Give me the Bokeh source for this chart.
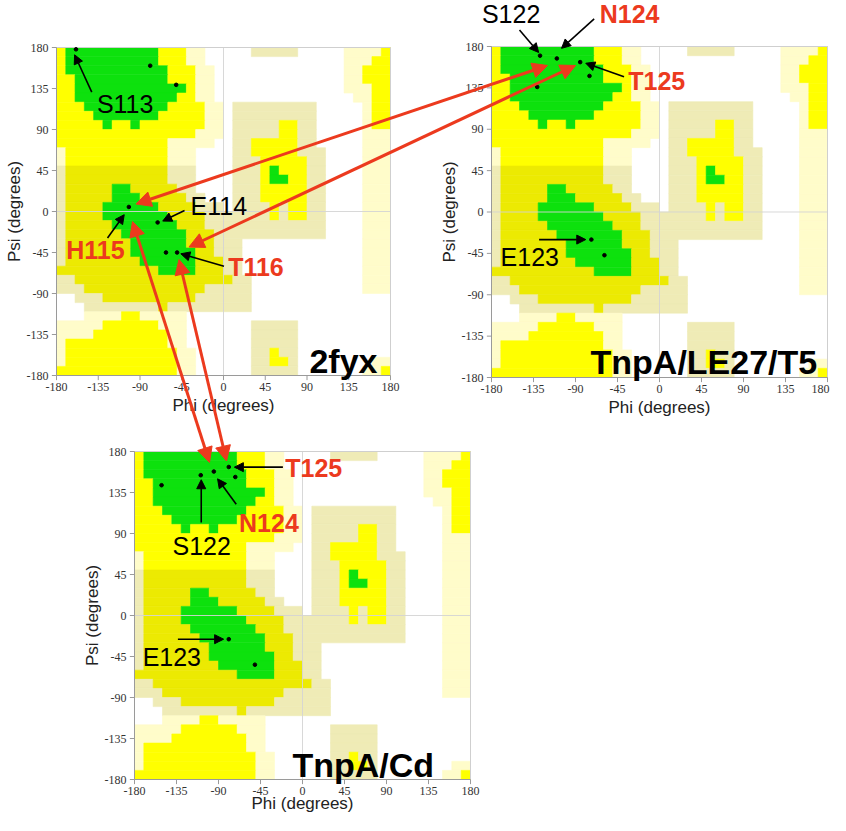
import math
from bokeh.plotting import figure
from bokeh.models import Range1d, Arrow, NormalHead, ColumnDataSource
from bokeh.core.properties import value
from bokeh.embed import file_html
from bokeh.resources import INLINE

# ---------------- data ----------------
TICKS = [-180, -135, -90, -45, 0, 45, 90, 135, 180]
TICK_LABELS = ["-180", "-135", "-90", "-45", "0", "45", "90", "135", "180"]

# Ramachandran background, 10-degree cells, rows psi 180 -> -180, run-length coded
# (y yellow, d tinted yellow, g green core, b beige, c cream, . white)
REGION_ROWS = [
    "y g10 y3 c2 .5 b5 .5 c4 y",
    "y g10 y3 c2 .15 c3 y2",
    "y g11 y3 c2 .14 c2 y3",
    "y2 g10 y3 c2 .14 c2 y3",
    "y2 g12 y c2 .14 c3 y2",
    "y2 g11 y2 c2 .15 c2 y2",
    "y3 g9 y4 c2 . b9 .5 c y2",
    "y4 g7 y5 c2 . b9 .5 c y2",
    "y5 g y2 g y7 c2 . b5 y2 b2 .5 c y2",
    "y15 c3 . b5 y2 b2 .5 c3",
    "y12 c5 .2 b2 y5 b2 .5 c3",
    "c y11 c3 .4 b2 y5 b3 .4 c3",
    "c y11 c3 .4 b3 y5 b2 .4 c3",
    "b d11 b3 .4 b3 y g y3 b2 .4 c3",
    "b d11 b3 .4 b3 y g2 y2 b2 .4 c3",
    "b d5 g2 d5 b2 .4 b3 y5 b2 .4 c3",
    "b d5 g3 d5 b2 .3 b3 y5 b2 .4 c3",
    "b d4 g6 d4 b3 . b4 y b y2 b2 .4 c3",
    "b d4 g7 d4 b7 y b y2 b2 .4 c3",
    "b d5 g7 d3 b13 .4 c3",
    "b d6 g7 d3 b12 .4 c3",
    "b d7 g6 d3 b3 .13 c3",
    "b d7 g7 d2 b3 .13 c3",
    "b d8 g6 d3 b2 .13 c3",
    "d11 g4 d3 b2 .13 c3",
    "b2 d17 b2 .12 c3",
    "b3 d13 b5 .12 c3",
    ".2 b3 d10 b6 .15",
    ".3 b8 d b9 .15",
    ".3 c4 y2 c5 .22",
    "c5 y6 c3 .7 b5 .10",
    "c4 y8 c2 .7 b5 .10",
    "c y11 c2 .7 b5 .10",
    "c y12 c2 .6 b2 y b2 .10",
    "c y12 c2 .6 b2 y2 b .8 c2",
    "y13 c2 .6 b5 .7 c2 y",
]

P1_NAME = "2fyx"
P1_PHI = [-159, -79, -51, -102, -71, -62, -50]
P1_PSI = [178, 160, 139, 5, -12, -45, -45]
P1_LABELS = ["S113", "E114", "H115", "T116"]
P1_LABEL_PHI = [-106, -5, -138, 35]
P1_LABEL_PSI = [118, 6, -42, -61]
P1_LABEL_RED = [False, False, True, True]

P2_NAME = "TnpA/LE27/T5"
P2_PHI = [-128, -110, -85, -75, -131, -73, -59]
P2_PSI = [170, 167, 163, 148, 136, -30, -47]
P2_LABELS = ["S122", "N124", "T125", "E123"]
P2_LABEL_PHI = [-159, -32, -3, -139]
P2_LABEL_PSI = [215.5, 215, 143, -49]
P2_LABEL_RED = [False, True, True, False]

P3_NAME = "TnpA/Cd"
P3_PHI = [-151, -109, -95, -79, -72, -79, -51]
P3_PSI = [143, 154, 158, 163, 152, -26, -54]
P3_LABELS = ["S122", "N124", "T125", "E123"]
P3_LABEL_PHI = [-108, -36, 12, -140]
P3_LABEL_PSI = [76, 102, 162, -46]
P3_LABEL_RED = [False, True, True, False]

# pointer arrows (label -> residue), in each panel's phi/psi
P1_PTR = [(-142, 131, -160.5, 172), (-42, 1, -65.5, -10.5), (-125, -29, -107, -3.5), (0.5, -60, -46, -46.4)]
P2_PTR = [(-150, 198, -129.5, 173.5), (-70, 210, -105, 178), (-38, 147, -79, 161.8), (-129, -30, -79, -30)]
P3_PTR = [(-108.5, 102, -108.5, 149), (-71, 122, -91, 150), (-21, 162.8, -73, 162.8), (-133.5, -26, -84.5, -26)]

# ---------------- styles / layout ----------------
COLORS = {"y": "#FFFF00", "d": "#ECEA02", "g": "#0DE10D", "b": "#EFEBB6", "c": "#FFFCCA"}
RED = "#EC3A1E"
W, H = 830, 815
X0, Y0 = 8, 8

# pixel boxes (left, right, top, bottom) of the three panels on the page
PANELS = [
    dict(key="p1", box=(64, 398, 55, 383), name=P1_NAME, phi=P1_PHI, psi=P1_PSI,
         labels=P1_LABELS, lphi=P1_LABEL_PHI, lpsi=P1_LABEL_PSI, lred=P1_LABEL_RED,
         ptr=P1_PTR, title_pos=(166, -164.5), last_tick_shift=0, title_off=30),
    dict(key="p2", box=(499, 835, 54, 385), name=P2_NAME, phi=P2_PHI, psi=P2_PSI,
         labels=P2_LABELS, lphi=P2_LABEL_PHI, lpsi=P2_LABEL_PSI, lred=P2_LABEL_RED,
         ptr=P2_PTR, title_pos=(169, -163.5), last_tick_shift=-7, title_off=30),
    dict(key="p3", box=(142, 478, 459, 787), name=P3_NAME, phi=P3_PHI, psi=P3_PSI,
         labels=P3_LABELS, lphi=P3_LABEL_PHI, lpsi=P3_LABEL_PSI, lred=P3_LABEL_RED,
         ptr=P3_PTR, title_pos=(141, -164.5), last_tick_shift=0, title_off=24),
]

# cross-panel red arrows (page pixel coordinates)
RED_ARROWS = [
    (143.5, 211.5, 555, 73),
    (196.5, 254.5, 583, 73),
    (140, 229, 217, 470),
    (186.5, 267, 234, 468.5),
]

p = figure(width=W, height=H, x_range=Range1d(X0, X0 + W), y_range=Range1d(Y0 + H, Y0),
           output_backend="svg", toolbar_location=None,
           x_axis_location=None, y_axis_location=None, min_border=0,
           outline_line_color=None, background_fill_color="white", border_fill_color="white")
p.xgrid.grid_line_color = None
p.ygrid.grid_line_color = None

# region cells
cells = dict(left=[], right=[], top=[], bottom=[], color=[])
for r, row in enumerate(REGION_ROWS):
    col = 0
    for tok in row.split():
        ch = tok[0]
        n = int(tok[1:]) if len(tok) > 1 else 1
        if ch != ".":
            cells["left"].append(-180 + 10 * col)
            cells["right"].append(-180 + 10 * (col + n))
            cells["top"].append(180 - 10 * r)
            cells["bottom"].append(170 - 10 * r)
            cells["color"].append(COLORS[ch])
        col += n
    if col != 36:
        print("row", r, "has", col, "cells")
cell_src = ColumnDataSource(cells)

SANS = value("Liberation Sans")
SERIF = value("Liberation Serif")

for P in PANELS:
    l, rgt, t, b = P["box"]
    sx = 360.0 / (rgt - l)
    sy = 360.0 / (b - t)
    xn, yn = P["key"] + "x", P["key"] + "y"
    p.extra_x_ranges[xn] = Range1d(-180 - (l - X0) * sx, 180 + (X0 + W - rgt) * sx)
    p.extra_y_ranges[yn] = Range1d(-180 - (Y0 + H - b) * sy, 180 + (t - Y0) * sy)
    kw = dict(x_range_name=xn, y_range_name=yn)

    p.quad(left="left", right="right", top="top", bottom="bottom", source=cell_src,
           fill_color="color", line_color="color", line_width=0.6, **kw)
    # zero lines
    p.segment(x0=[0, -180], y0=[-180, 0], x1=[0, 180], y1=[180, 0],
              line_color="#D4D4D4", line_width=1, line_alpha=0.9, **kw)
    # frame
    p.segment(x0=[-180, 180], y0=[180, 180], x1=[180, 180], y1=[180, -180],
              line_color="#CFCFCF", line_width=1, **kw)
    p.segment(x0=[-180, -180], y0=[-180, -180], x1=[-180, 180], y1=[180, -180],
              line_color="#9A9A9A", line_width=1, **kw)
    tl = 5.0
    p.segment(x0=[-180] * len(TICKS), y0=TICKS, x1=[-180 - tl * sx / 1.08] * len(TICKS), y1=TICKS,
              line_color="#9A9A9A", line_width=1, **kw)
    p.segment(x0=TICKS, y0=[-180] * len(TICKS), x1=TICKS, y1=[-180 - tl * sy / 1.08] * len(TICKS),
              line_color="#9A9A9A", line_width=1, **kw)
    p.text(x=[-180] * len(TICKS), y=TICKS, text=TICK_LABELS, x_offset=-8,
           text_align="right", text_baseline="middle", text_font=SERIF,
           text_font_size="12px", text_color="#333333", **kw)
    xoffs = [0] * (len(TICKS) - 1) + [P["last_tick_shift"]]
    p.text(x=TICKS, y=[-180] * len(TICKS), text=TICK_LABELS, x_offset=xoffs, y_offset=11,
           text_align="center", text_baseline="middle", text_font=SERIF,
           text_font_size="12px", text_color="#333333", **kw)
    p.text(x=[0], y=[-180], text=["Phi (degrees)"], y_offset=P["title_off"],
           text_align="center", text_baseline="middle", text_font=SANS,
           text_font_size="17px", text_color="#222222", **kw)
    p.text(x=[-180], y=[0], text=["Psi (degrees)"], x_offset=-42, angle=math.pi / 2,
           text_align="center", text_baseline="middle", text_font=SANS,
           text_font_size="17px", text_color="#222222", **kw)

    # residues
    p.scatter(x=P["phi"], y=P["psi"], size=3.6, color="black", **kw)

    # pointer arrows
    for (xa, ya, xb, yb) in P["ptr"]:
        p.add_layout(Arrow(end=NormalHead(size=9, fill_color="black", line_color="black"),
                           x_start=xa, y_start=ya, x_end=xb, y_end=yb,
                           line_color="black", line_width=1.6, **kw))

    # residue labels
    for lab, lx, ly, red in zip(P["labels"], P["lphi"], P["lpsi"], P["lred"]):
        p.text(x=[lx], y=[ly], text=[lab], text_align="center", text_baseline="middle",
               text_font=SANS, text_font_size="25px",
               text_font_style="bold" if red else "normal",
               text_color=RED if red else "black", **kw)

    # panel title
    p.text(x=[P["title_pos"][0]], y=[P["title_pos"][1]], text=[P["name"]],
           text_align="right", text_baseline="alphabetic", text_font=SANS,
           text_font_size="34px", text_font_style="bold", text_color="black", **kw)

for (xa, ya, xb, yb) in RED_ARROWS:
    p.add_layout(Arrow(start=NormalHead(size=15, fill_color=RED, line_color=RED),
                       end=NormalHead(size=15, fill_color=RED, line_color=RED),
                       x_start=xa, y_start=ya, x_end=xb, y_end=yb,
                       line_color=RED, line_width=3))

open("out.html", "w").write(file_html(p, INLINE))
